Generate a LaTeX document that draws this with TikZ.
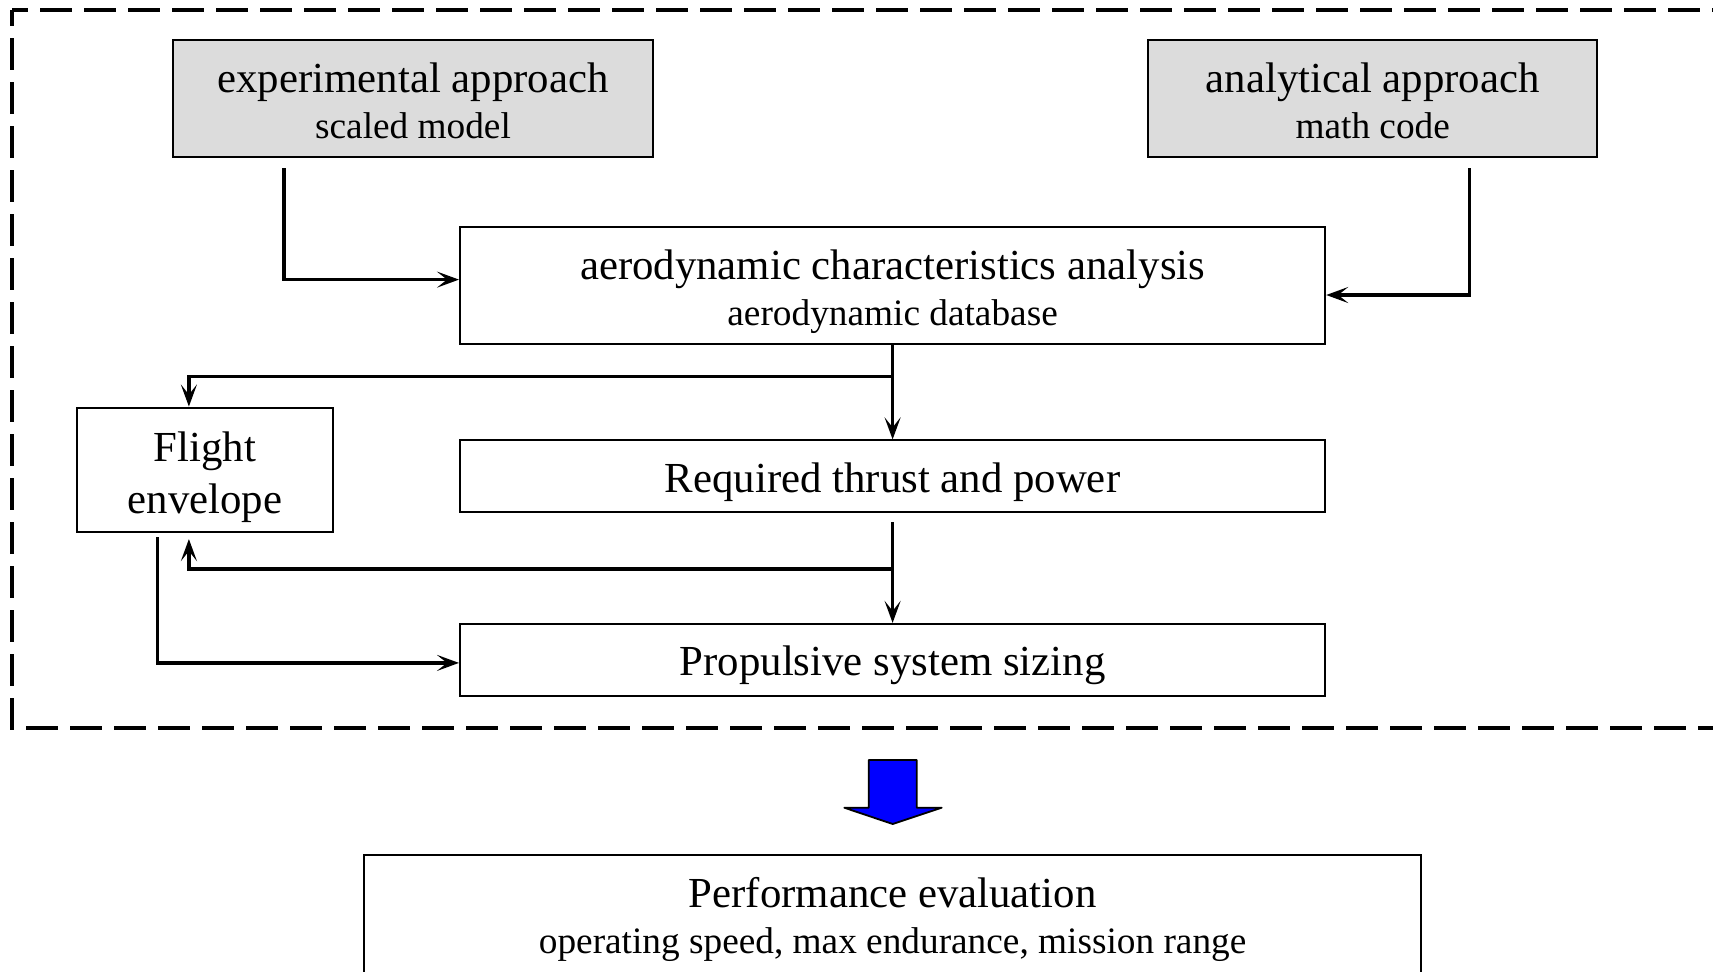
\documentclass[tikz,border=0pt]{standalone}
\usepackage{fontspec}
\setmainfont{Liberation Serif}
\usetikzlibrary{arrows.meta,calc}
\definecolor{boxgray}{RGB}{220,220,220}
\begin{document}
\begin{tikzpicture}[x=0.5pt,y=-0.5pt,
  box/.style={draw=black,line width=1pt,inner sep=0pt},
  graybox/.style={box,fill=boxgray},
  maintext/.style={inner sep=0pt,anchor=base,font=\fontsize{21.4}{24}\selectfont},
  subtext/.style={inner sep=0pt,anchor=base,font=\fontsize{18.65}{20}\selectfont},
  arr/.style={line width=1.6pt,-{Stealth[length=11pt,width=8pt,inset=5pt]}},
  frame/.style={line width=2pt,dash pattern=on 15.8pt off 6.2pt,dash phase=8pt},
  bigarrow/.style={fill=blue,draw=black,line width=0.9pt,line join=round}]
\useasboundingbox (0,0) rectangle (1713,971);

% dashed frame
\draw[frame] (12,10) -- (1760,10);
\draw[frame] (12,10) -- (12,727.7) -- (1760,727.7);

% boxes
\node[graybox,minimum width=240.35pt,minimum height=58.45pt] (exp) at (413,98.9) {};
\node[graybox,minimum width=224.5pt,minimum height=58.45pt] (ana) at (1372.7,98.9) {};
\node[box,minimum width=432.6pt,minimum height=58.45pt] (aero) at (892.6,285.6) {};
\node[box,minimum width=128.35pt,minimum height=62.25pt] (flight) at (204.9,469.8) {};
\node[box,minimum width=432.6pt,minimum height=36pt] (req) at (892.6,476.4) {};
\node[box,minimum width=432.6pt,minimum height=36pt] (prop) at (892.6,659.9) {};
\node[box,minimum width=528.75pt,minimum height=62.5pt] (perf) at (892.6,917.7) {};

% texts
\node[maintext] (exp-a) at ($(exp.center)+(0,-6.3)$) {experimental approach};
\node[subtext]  (exp-b) at ($(exp.center)+(0,40)$) {scaled model};
\node[maintext] (ana-a) at ($(ana.center)+(0,-6.3)$) {analytical approach};
\node[subtext]  (ana-b) at ($(ana.center)+(0,40)$) {math code};
\node[maintext] (aero-a) at ($(aero.center)+(0,-6.3)$) {aerodynamic characteristics analysis};
\node[subtext]  (aero-b) at ($(aero.center)+(0,40)$) {aerodynamic database};
\node[maintext] (flight-a) at ($(flight.center)+(0,-8.8)$) {Flight};
\node[maintext] (flight-b) at ($(flight.center)+(0,43.2)$) {envelope};
\node[maintext] (req-a) at ($(req.center)+(0,15.7)$) {Required thrust and power};
\node[maintext] (prop-a) at ($(prop.center)+(0,15.7)$) {Propulsive system sizing};
\node[maintext] (perf-a) at ($(perf.north)+(0,53.5)$) {Performance evaluation};
\node[subtext]  (perf-b) at ($(perf.north)+(0,99.5)$) {operating speed, max endurance, mission range};

% connectors
\draw[arr] ($(exp.south)+(-129,10)$) |- ($(aero.west)+(0,-6)$);
\draw[arr] ($(ana.south)+(96.7,10)$) |- ($(aero.east)+(0,9.4)$);
\draw[arr] (aero.south) -- (req.north);
\draw[arr] ($(aero.south)+(0,31.7)$) -| ($(flight.north)+(-16,0)$);
\draw[arr] ($(req.south)+(0,8.7)$) -- (prop.north);
\draw[arr] ($(req.south)+(0,55.6)$) -| ($(flight.south)+(-16,6)$);
\draw[arr] ($(flight.south)+(-47.6,4)$) |- ($(prop.west)+(0,3)$);

% big blue arrow
\draw[bigarrow] (868.7,760) -- (916.7,760) -- (916.7,807.7) -- (941.7,807.7)
  -- (892.7,824) -- (844.3,807.7) -- (868.7,807.7) -- cycle;
\end{tikzpicture}
\end{document}
